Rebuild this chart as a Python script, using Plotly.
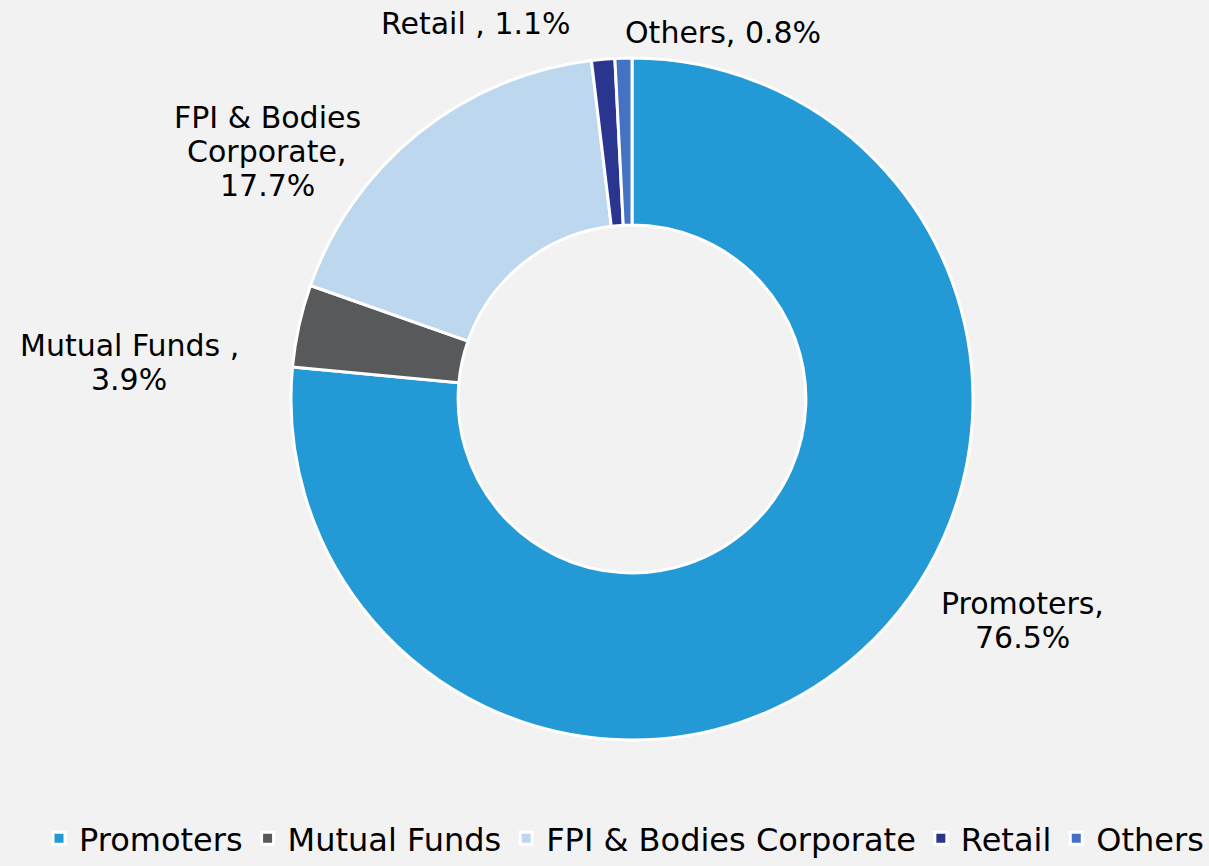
import plotly.graph_objects as go

categories = ["Promoters", "Mutual Funds", "FPI & Bodies Corporate", "Retail", "Others"]
values = [76.5, 3.9, 17.7, 1.1, 0.8]
label_lines = [["Promoters,", "76.5%"], ["Mutual Funds ,", "3.9%"],
               ["FPI & Bodies", "Corporate,", "17.7%"], ["Retail , 1.1%"], ["Others, 0.8%"]]
colors = ["#2399d5", "#58595b", "#bdd7ee", "#2a3590", "#4472c4"]

W, H = 1209, 866
label_first_px = [(1022, 603), (129, 345), (267, 118), (476, 23), (723, 32)]
LINE_STEP = 34

fig = go.Figure(go.Pie(
    labels=categories, values=values, sort=False, direction="clockwise", rotation=0,
    hole=0.51, textinfo="none", hoverinfo="label+percent",
    marker=dict(colors=colors, line=dict(color="white", width=3)),
    domain=dict(x=[0.0455, 1.0], y=[1 - 740 / H, 1 - 58 / H]),
))

for lines, (px, py) in zip(label_lines, label_first_px):
    for i, t in enumerate(lines):
        fig.add_annotation(x=px / W, y=1 - (py + i * LINE_STEP) / H, xref="paper", yref="paper",
                           text=t, showarrow=False, xanchor="center", yanchor="middle",
                           font=dict(family="DejaVu Sans", size=30, color="#000000"))

fig.update_layout(
    width=W, height=H, margin=dict(l=0, r=0, t=0, b=0),
    paper_bgcolor="#f2f2f2", plot_bgcolor="#f2f2f2",
    font=dict(family="DejaVu Sans", size=30, color="#000000"),
    legend=dict(orientation="h", x=0.526, xanchor="center", y=0.0, yanchor="bottom",
                font=dict(size=32), itemclick=False, bgcolor="rgba(0,0,0,0)",
                itemwidth=30, tracegroupgap=0),
)

fig.write_html("out.html", config={"displayModeBar": False},
               post_script="document.body.style.margin='0';document.body.style.background='#f2f2f2';")
